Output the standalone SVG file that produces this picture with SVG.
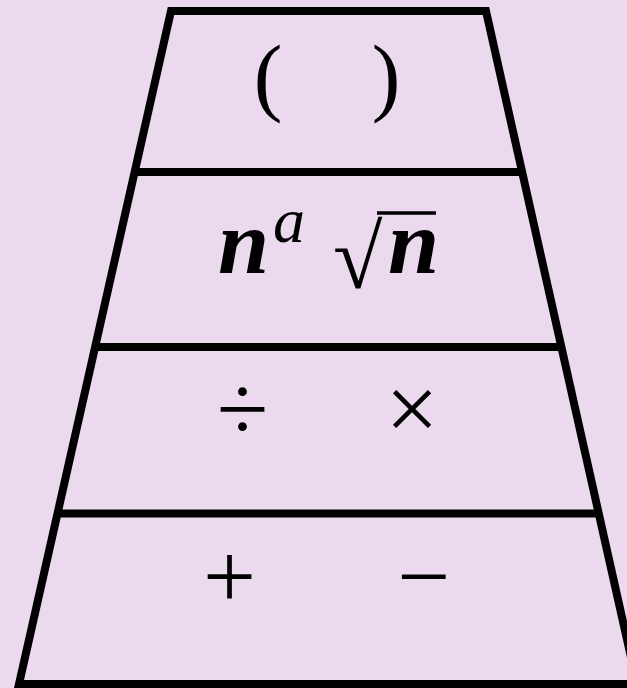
<svg xmlns="http://www.w3.org/2000/svg" width="627" height="688" viewBox="0 0 627 688">
  <style>
    .bg { fill: #EBD9EE; }
    .frame { fill: none; stroke: #000; stroke-width: 8; stroke-linejoin: miter; }
    .div { stroke: #000; stroke-width: 8; }
    .op { font-family: "Liberation Serif", "DejaVu Serif", serif; font-size: 94px; fill: #000; text-anchor: middle; }
    .par { font-family: "Liberation Serif", "DejaVu Serif", serif; font-size: 86px; fill: #000; text-anchor: middle; }
    .var { font-family: "Liberation Serif", "DejaVu Serif", serif; font-size: 92px; font-weight: bold; font-style: italic; fill: #000; }
    .sup { font-family: "Liberation Serif", "DejaVu Serif", serif; font-size: 64px; font-style: italic; fill: #000; }
    .rad { font-family: "Liberation Serif", "DejaVu Serif", serif; font-size: 90px; fill: #000; }
  </style>
  <rect class="bg" x="0" y="0" width="627" height="688"/>
  <g id="connectors">
    <polygon class="frame" points="171,11 486,11 637,684 19,684"/>
    <line class="div" x1="134" y1="172" x2="523" y2="172"/>
    <line class="div" x1="95" y1="347" x2="562" y2="347"/>
    <line class="div" x1="57" y1="513.5" x2="599" y2="513.5"/>
  </g>
  <g id="tier-parentheses">
    <text class="par" x="268" y="105">(</text>
    <text class="par" x="386" y="105">)</text>
  </g>
  <g id="tier-exponents">
    <text class="var" x="218" y="273">n</text>
    <text class="sup" x="273" y="242">a</text>
    <text class="rad" x="333" y="288">√</text>
    <line x1="377" y1="213" x2="436" y2="213" stroke="#000" stroke-width="3.5"/>
    <text class="var" x="388" y="273">n</text>
  </g>
  <g id="tier-multiply-divide">
    <text class="op" x="242.5" y="440">÷</text>
    <text class="op" x="412" y="440">×</text>
  </g>
  <g id="tier-add-subtract">
    <text class="op" x="229.5" y="608">+</text>
    <text class="op" x="423.5" y="608">−</text>
  </g>
</svg>
